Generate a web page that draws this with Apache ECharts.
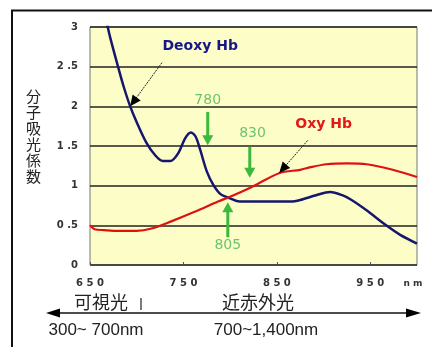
<!DOCTYPE html>
<html><head><meta charset="utf-8">
<script src="https://cdn.jsdelivr.net/npm/echarts@6/dist/echarts.min.js"></script>
<style>html,body{margin:0;padding:0;background:#fff}#c{width:441px;height:347px}</style>
</head><body><div id="c"></div>
<script>
// ---- data ----
const xTicks = [650, 750, 850, 950];
const yTicks = [0, 0.5, 1, 1.5, 2, 2.5, 3];
const deoxyHb = [[667,3.1],[672,2.85],[680,2.5],[686,2.25],[693,2.0],[700,1.8],[710,1.55],[720,1.38],[728,1.31],[736,1.31],[744,1.40],[752,1.60],[758,1.67],[763,1.62],[768,1.45],[775,1.18],[782,1.01],[790,0.89],[800,0.84],[810,0.80],[830,0.80],[850,0.80],[865,0.80],[875,0.82],[892,0.88],[907,0.92],[920,0.88],[930,0.82],[946,0.69],[967,0.50],[982,0.38],[1000,0.27]];
const oxyHb = [[650,0.50],[655,0.45],[665,0.44],[680,0.43],[700,0.43],[716,0.46],[737,0.55],[762,0.67],[787,0.80],[800,0.86],[821,0.97],[853,1.16],[875,1.20],[885,1.23],[903,1.27],[925,1.28],[946,1.27],[974,1.20],[1000,1.11]];
const greenMarks = [
  {label:'780', x:776, from:1.93, to:1.51, tx:776, ty:2.08},
  {label:'830', x:821, from:1.49, to:1.10, tx:824, ty:1.66},
  {label:'805', x:797.5, from:0.35, to:0.79, tx:797.5, ty:0.25}
];
const seriesLabels = [
  {text:'Deoxy Hb', color:'#16168a', x:768, y:2.75, ax:[727,2.55], bx:[693,2.0]},
  {text:'Oxy Hb', color:'#e01818', x:900, y:1.77, ax:[883,1.57], bx:[852.5,1.16]}
];
const xUnit = 'nm';
const yAxisName = '分子吸光係数';
const bandLabels = ['可視光', '近赤外光'];
const bandRanges = ['300~ 700nm', '700~1,400nm'];

const chart = echarts.init(document.getElementById('c'));
chart.setOption({
  animation:false,
  backgroundColor:'#fff',
  grid:{left:90, top:27, right:24, bottom:82, show:true, backgroundColor:'#fdfdc8', borderColor:'#777', borderWidth:1},
  xAxis:{type:'value', min:650, max:1000, interval:100,
    axisLine:{show:false}, axisTick:{show:true, inside:true, length:3, lineStyle:{color:'#555'}},
    splitLine:{show:false},
    axisLabel:{showMaxLabel:false, color:'#333', fontSize:10, fontWeight:'bold', fontFamily:'DejaVu Sans', margin:13,
      formatter:v=> xTicks.includes(v) ? String(v).split('').join(' ') : ''}
  },
  yAxis:{type:'value', min:0, max:3, interval:0.5,
    axisLine:{show:false}, axisTick:{show:false},
    splitLine:{show:true, lineStyle:{color:'#222', width:1.5}},
    axisLabel:{color:'#333', fontSize:10, fontWeight:'bold', fontFamily:'DejaVu Sans', margin:12,
      formatter:v=> yTicks.includes(v) ? String(v).replace('.', ' .') : ''}
  },
  series:[
    {type:'line', data:deoxyHb, showSymbol:false, smooth:0.3, clip:true, lineStyle:{color:'#16166e', width:2.5}},
    {type:'line', data:oxyHb, showSymbol:false, smooth:0.3, clip:true, lineStyle:{color:'#e01010', width:2.2}}
  ]
});

function arrowHead(tip, from, len, half, color){
  const dx = tip[0]-from[0], dy = tip[1]-from[1];
  const L = Math.hypot(dx,dy); const ux = dx/L, uy = dy/L;
  const bx = tip[0]-ux*len, by = tip[1]-uy*len;
  return {type:'polygon', shape:{points:[tip,[bx-uy*half, by+ux*half],[bx+uy*half, by-ux*half]]}, style:{fill:color}, z:20};
}
const P = (x,y)=>chart.convertToPixel({gridIndex:0},[x,y]);
const g = [];
// frame
g.push({type:'polyline', shape:{points:[[12,347],[12,10.5],[432,10.5]]}, style:{stroke:'#111', lineWidth:2, fill:null}});
// y axis name
g.push({type:'text', left:26, top:88, style:{text:yAxisName.split('').join('\n'), font:'15px "Noto Sans CJK JP"', fill:'#222', lineHeight:16}});
// x unit
const u = P(1000, 0);
g.push({type:'text', x:u[0]-4, y:u[1]+19, style:{text:xUnit.split('').join(' '), font:'bold 9px "DejaVu Sans"', fill:'#333', align:'center', verticalAlign:'middle'}});
// green arrows
greenMarks.forEach(m=>{
  const a = P(m.x, m.from), b = P(m.x, m.to);
  const dir = Math.sign(b[1]-a[1]);
  g.push({type:'line', shape:{x1:a[0], y1:a[1], x2:b[0], y2:b[1]-dir*8}, style:{stroke:'#3cb83c', lineWidth:3}, z:19});
  g.push(arrowHead(b, a, 10, 5.5, '#3cb83c'));
  const t = P(m.tx, m.ty);
  g.push({type:'text', x:t[0], y:t[1], style:{text:m.label, font:'14px "DejaVu Sans"', fill:'#6cc46c', align:'center', verticalAlign:'middle'}, z:20});
});
// series labels + black arrows
seriesLabels.forEach(s=>{
  const t = P(s.x, s.y);
  g.push({type:'text', x:t[0], y:t[1], style:{text:s.text, font:'bold 14px "DejaVu Sans"', fill:s.color, align:'center', verticalAlign:'middle'}, z:20});
  const a = P(s.ax[0], s.ax[1]), b = P(s.bx[0], s.bx[1]);
  g.push({type:'line', shape:{x1:a[0], y1:a[1], x2:b[0], y2:b[1]}, style:{stroke:'#222', lineWidth:1, lineDash:[2,1]}, z:19});
  g.push(arrowHead(b, a, 11, 5, '#000'));
});
// bottom wavelength band arrow
g.push({type:'line', shape:{x1:55, y1:313, x2:410, y2:313}, style:{stroke:'#111', lineWidth:1.5}});
g.push(arrowHead([46,313],[60,313],14,4.5,'#000'));
g.push(arrowHead([421,313],[405,313],15,4.5,'#000'));
g.push({type:'line', shape:{x1:141, y1:298, x2:141, y2:310}, style:{stroke:'#222', lineWidth:1.2}});
g.push({type:'text', x:101, y:302, style:{text:bandLabels[0], font:'18px "Noto Sans CJK JP"', fill:'#222', align:'center', verticalAlign:'middle'}});
g.push({type:'text', x:258, y:302, style:{text:bandLabels[1], font:'18px "Noto Sans CJK JP"', fill:'#222', align:'center', verticalAlign:'middle'}});
g.push({type:'text', x:96, y:330, style:{text:bandRanges[0], font:'17px "Liberation Sans"', fill:'#222', align:'center', verticalAlign:'middle'}});
g.push({type:'text', x:266, y:330, style:{text:bandRanges[1], font:'17px "Liberation Sans"', fill:'#222', align:'center', verticalAlign:'middle'}});
chart.setOption({graphic:g});
</script></body></html>
